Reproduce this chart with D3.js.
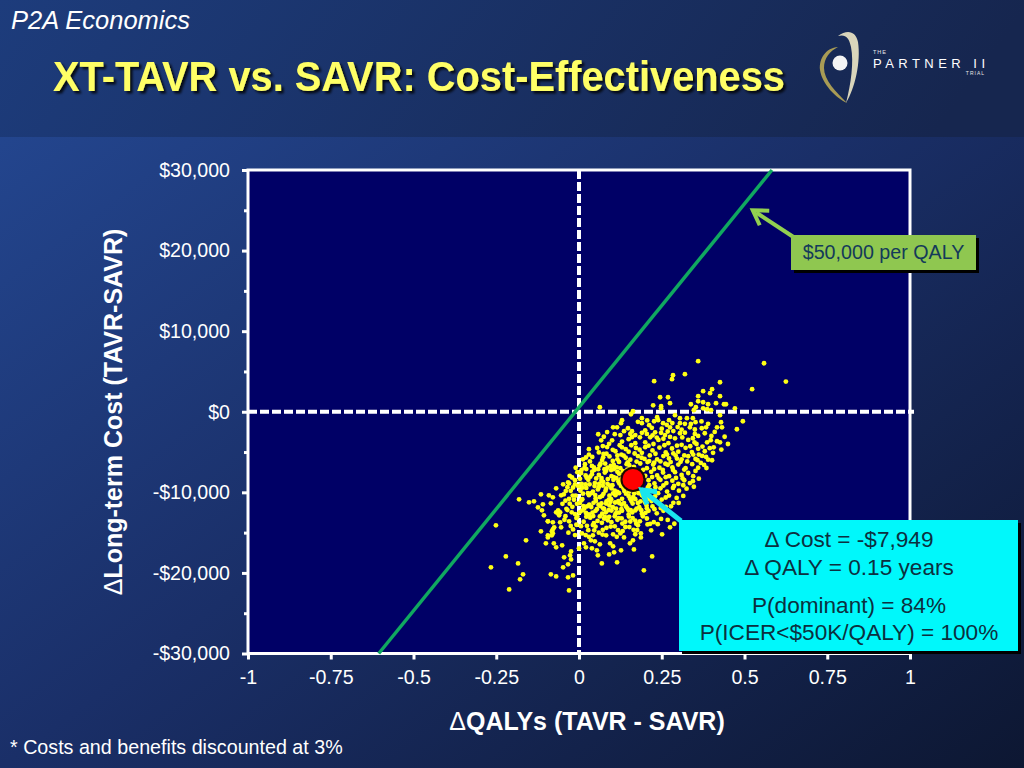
<!DOCTYPE html>
<html><head><meta charset="utf-8">
<style>
html,body{margin:0;padding:0;background:#14224c;overflow:hidden}
svg{display:block}
text{font-family:"Liberation Sans",Arial,sans-serif}
</style>
<script src="https://cdn.jsdelivr.net/npm/d3@7"></script>
</head><body>
<svg id="c" width="1024" height="768"></svg>
<script>
const xTicks=[-1,-0.75,-0.5,-0.25,0,0.25,0.5,0.75,1];
const yTicks=[-30000,-20000,-10000,0,10000,20000,30000];
const yMinorTicks=[-25000,-15000,-5000,5000,15000,25000];
const thresholdLine=[[-0.605,-30000],[0.583,30000]];
const meanPoint=[0.163,-8400];
const statsLines=["\u0394 Cost = -$7,949","\u0394 QALY = 0.15 years","P(dominant) = 84%","P(ICER<$50K/QALY) = 100%"];
const outlierPoints=[[.36,6270],[.559,6020],[.625,3750],[.523,2800],[.227,3790],[.284,4530],[.281,4040],[.32,4660],[.426,3660],[.375,2550],[.402,2800],[.396,2300],[.36,1930],[.426,1930],[.245,1800],[.269,1800],[.36,1300],[.375,1180],[.275,1060],[.224,800],[.248,680],[.248,430],[.338,930],[.39,930],[.414,1060],[.438,930],[.444,930],[.063,560],[.471,430],[.353,560],[.347,190],[.375,430],[.387,310],[.399,190],[.163,60],[.157,-310],[.426,-430],[.495,-1180],[.477,-2170],[.417,-1930],[.432,-1930],[.429,-1300],[.384,-1930],
[-.251,-14100],[-.16,-15960],[-.221,-17950],[-.184,-18820],[-.266,-19310],[-.169,-20180],[-.178,-20800],[-.211,-22050],[-.085,-20180],[-.069,-20430],[-.033,-20550],[-.018,-20310],[-.03,-22170],[-.048,-19310],[-.033,-18940],[-.045,-18070],[-.024,-18320],[-.027,-17820],[.069,-18820],[.115,-18690],[.196,-19680],[.221,-17950],[.166,-17080],[.127,-17200],[.106,-17450],[.091,-17700],[.057,-17820],[.054,-17200],[.039,-16950],[.021,-16830],[.015,-16330],[0,-16950],[-.024,-17330],[-.051,-16580],[-.069,-16830],[-.076,-16330],[-.1,-16330],[-.094,-15590],[-.082,-15340],[-.115,-14840],[-.094,-13600],[-.079,-14590],[.275,-14340],[.251,-15210],[.218,-14720],[.187,-15090],[.187,-15590],[.154,-16330],[.163,-15960],[.136,-15590],[.082,-15340],[.103,-15210],[.042,-15340],[.036,-15960],[.048,-16080],[.063,-16450],[.094,-16330],[.103,-16700],
[-.181,-10870],[-.151,-11240],[-.136,-11120],[-.115,-10250],[-.091,-10370],[-.079,-10620],[-.054,-10370],[-.069,-9500],[-.048,-9000],[-.033,-8760],[-.124,-11860],[-.109,-11490],[-.085,-11360],[-.112,-12230],[-.106,-12850],[-.063,-12230],[-.063,-12600],[-.06,-12850],[-.057,-12480],[-.069,-12480],[-.094,-13600],[-.079,-13720],[-.057,-13720],[-.075,-14340],[-.054,-14340],[-.082,-14840],[-.094,-15340],[-.079,-15090]];
const upperCloud=[[.13,-1050],[.127,-1420],[.103,-1930],[.115,-1930],[.085,-2520],[.058,-2790],[.075,-3100],[.067,-3540],[.1,-3540],[.148,-2050],[.16,-2420],[.19,-800],[.19,-1420],[.212,-1670],[.236,-670],[.239,-1050],[.254,-1420],[.272,-1050],[.29,-430],[.305,-800],[.326,-800],[.344,-800],[.275,-1930],[.305,-1420],[.335,-1930],[.371,-2050],[.38,-2670],[.305,-2670],[.23,-2550],[.184,-3170],[.215,-3170],[.417,-3660],[.426,-3790],[.387,-3790],[.344,-3290],[.17,-2900],[.2,-2300],[.25,-2100],[.26,-2900],[.285,-2400],[.32,-2600],[.35,-2200],[.36,-3000],[.33,-3500],[.29,-3300],[.24,-3500],[.2,-3800],[.15,-3400],[.125,-2900],[.13,-3700],[.17,-3900],[.225,-4000],[.27,-3900],[.31,-4100],[.355,-4000],[.4,-3000],[.41,-2500],[.39,-1500],[.37,-1200],[.32,-1500],[.22,-2000],[.44,-3100],[.45,-4000],[.43,-4700],[.405,-5100],[.178,-1250],[.268,-2450],[.298,-1900],[.35,-2750],[.255,-3350],[.205,-2750],[.155,-2750]];
const midCloud=[[.03,-4650],[.06,-5050],[.085,-4380],[.11,-4900],[.13,-4420],[.15,-4950],[.172,-4500],[.19,-5100],[.2,-4400],[.222,-4800],[.243,-4450],[.262,-5050],[.281,-4560],[.3,-4950],[.322,-4480],[.341,-5000],[.36,-4600],[.38,-4900],[.395,-4520],
[.012,-5900],[.04,-5600],[.07,-6000],[.092,-5550],[.116,-5900],[.135,-5450],[.155,-5950],[.178,-5500],[.198,-5850],[.214,-5420],[.236,-5920],[.255,-5500],[.272,-5800],[.292,-5430],[.31,-5900],[.33,-5520],[.352,-5850],[.372,-5480],[.39,-5950],[.368,-6350],
[-.01,-6950],[.018,-6500],[.045,-6900],[.065,-6450],[.086,-6950],[.105,-6600],[.125,-7000],[.144,-6500],[.166,-6850],[.185,-6420],[.205,-7000],[.224,-6550],[.243,-6950],[.261,-6450],[.282,-6900],[.3,-6550],[.322,-7000],[.342,-6500],[.36,-6950],[.378,-6600],
[-.028,-7950],[-.005,-7500],[.02,-7900],[.04,-7420],[.06,-7850],[.078,-7550],[.098,-8000],[.116,-7450],[.134,-7900],[.152,-7500],[.2,-7950],[.218,-7450],[.236,-7900],[.254,-7550],[.272,-8000],[.29,-7500],[.31,-7850],[.33,-7600],[.345,-8000],
[-.03,-8900],[-.012,-8500],[.008,-8950],[.028,-8450],[.048,-8850],[.068,-8550],[.086,-8950],[.104,-8450],[.122,-8900],[.21,-8500],[.228,-8900],[.246,-8450],[.264,-8850],[.282,-8550],[.3,-8950],[.318,-8500],[.335,-8850],
[-.04,-9850],[-.018,-9400],[.004,-9800],[.022,-9450],[.042,-9900],[.06,-9350],[.08,-9800],[.098,-9500],[.116,-9950],[.134,-9450],[.152,-9900],[.172,-9700],[.19,-9950],[.208,-9400],[.226,-9850],[.246,-9500],[.266,-9900],[.284,-9450],[.302,-9800],[.325,-9550],
[-.03,-10800],[-.01,-10400],[.01,-10850],[.03,-10350],[.05,-10750],[.07,-10450],[.09,-10900],[.11,-10350],[.13,-10800],[.15,-10450],[.17,-10850],[.19,-10350],[.21,-10800],[.23,-10500],[.25,-10900],[.272,-10400],[.295,-10700],[.315,-10450],[.285,-11300],
[-.02,-11800],[.002,-11350],[.024,-11750],[.044,-11300],[.064,-11700],[.082,-11400],[.102,-11850],[.122,-11350],[.142,-11750],[.162,-11400],[.182,-11850],[.2,-11300],[.222,-11750],[.242,-11350],[.262,-11800]];
const lowerCloud=[[-.035,-12200],[-.012,-12700],[.01,-12250],[.03,-12750],[.05,-12300],[.07,-12650],[.09,-12200],[.11,-12700],[.13,-12300],[.15,-12750],[.17,-12250],[.19,-12650],[.21,-12300],[.235,-12600],[.255,-12300],
[-.03,-13600],[-.008,-13200],[.014,-13650],[.034,-13150],[.056,-13550],[.076,-13250],[.098,-13700],[.12,-13200],[.14,-13650],[.162,-13200],[.184,-13600],[.205,-13250],[.226,-13700],[.248,-13300],[.288,-13900],
[-.018,-14600],[.006,-14200],[.028,-14700],[.05,-14250],[.072,-14650],[.096,-14250],[.118,-14700],[.14,-14300],[.165,-14650],[.02,-15300],[.06,-15000],[.125,-15100]];
const denseCore=[[.047,-7210],[.083,-5210],[.121,-6230],[.141,-5710],[.097,-7240],[.068,-8230],[.113,-8240],[.139,-8520],[.093,-9170],[.057,-9640],[.127,-9210],[.074,-10180],[.038,-10090],[.103,-10120],[.142,-10170],[.167,-10120],[.199,-10240],[.051,-11060],[.083,-11130],[.119,-11090],[.158,-11060],[.186,-11110],[.219,-11080],[.031,-11520],[.073,-11990],[.112,-12020],[.146,-11990],[.174,-12030],[.205,-11990],[.041,-12510],[.081,-12480],[.121,-12510],[.161,-12490],[.201,-12540],[.022,-13020],[.063,-12990],[.108,-12980],[.151,-13010],[.193,-12970],[.045,-13810],[.087,-13470],[.131,-13880],[.173,-13890],[.215,-13910],[.007,-11010],[.016,-12020],[.002,-12480],[-.005,-13010],[.012,-10170],[-.012,-9020],[.003,-8320],[.034,-8060],[.058,-7120],[.079,-6430],[.102,-6110],[.128,-5320],[.147,-6270],[.168,-5180],[.189,-5710],[.207,-6240],[.231,-5210],[.246,-6170],[.268,-6580],[.285,-5170],[.307,-6210],[.327,-6170],[.345,-5310],[.362,-5310],[.384,-5610],[.402,-6020],[.385,-6980],[.352,-7340],[.318,-7180],[.284,-7220],[.253,-7210],[.227,-7110],[.194,-7210],[.169,-7310],[.146,-7190],[.121,-7680],[.105,-7120],[.082,-7320],[.062,-6680],[.033,-6170],[.022,-7110],[.008,-7210],[.052,-8270],[.087,-8350],[.105,-8110],[.128,-8310],[.221,-8110],[.241,-8260],[.262,-8120],[.293,-8210],[.313,-8280],[.344,-8610],[.362,-8310],[.347,-9310],[.315,-9120],[.287,-9210],[.255,-9150],[.231,-9370],[.212,-9110],[.186,-9210],[.171,-9300],[.151,-9170],[.137,-9820],[.121,-10110],[.108,-9800],[.092,-10410],[.063,-10600],[.027,-10110],[.011,-9400],[-.019,-10400],[-.041,-11030],[-.028,-11410],[-.015,-10920],[-.006,-11430],[.013,-11700],[.037,-11820],[.054,-12100],[.098,-12260],[.128,-12080],[.156,-12210],[.188,-12220],[.228,-12090],[.247,-11950],[.278,-11740],[.301,-11320],[.262,-10640],[.239,-10110],[.214,-9700],[.196,-10620],[.178,-11310],[.154,-10800],[.136,-11330],[.095,-11180],[.068,-11380],[.043,-12950],[.078,-13050],[.116,-13410],[.155,-13620],[.178,-14100],[.207,-13980],[.238,-13950],[.268,-13420],[.024,-14160],[.046,-14720],[.083,-14410],[.108,-14220],[.132,-14810],[.152,-14310],[.176,-14680],[-.025,-14180],[-.041,-12970],[-.022,-12480],[-.008,-14020],[-.046,-10260],[-.035,-9360],[-.021,-8160],[.006,-7620],[.017,-6920],[.039,-6720],[.073,-5660],[.102,-4720],[.123,-4160],[.141,-4630],[.158,-4160],[.183,-4710],[.21,-4210],[.235,-3210],[.258,-4160],[.296,-4210],[.336,-4280],[.312,-3180],[.275,-3120],[.248,-2620],[.222,-2920],[.19,-2610],[.16,-3160],[.136,-2410],[.108,-2780],[.091,-3980],[.072,-4260],[.116,-5420],[.055,-4500],[.074,-5230],[.03,-5320],[.021,-5680],[.096,-6720],[.152,-6640],[.174,-6180],[.212,-6120],[.227,-6320],[.266,-5310],[.277,-6240],[.296,-5810],[.318,-5420],[.358,-6010],[.407,-4420],[.373,-4320],[.349,-3810],[.398,-3530],[.31,-2210],[.265,-1620],[.227,-1180],[.206,-1080],[.338,-1510],[.352,-1290],[.282,-1410],[.072,-9160],[.047,-9220],[.032,-9010],[.097,-10860],[.129,-11520],[.149,-12180],[.204,-11620],[.164,-10580],[.18,-10100],[.204,-10460],[.113,-12520],[.091,-13040],[.069,-13790],[.042,-14060],[.129,-13240],[.17,-13500],[.059,-11540],[.021,-12550],[.076,-12060],[.092,-11620],[.109,-11260],[.049,-10340],[.02,-9020],[.039,-7760],[.077,-7120],[.114,-6900],[.133,-7370],[.073,-8710],[.119,-8650],[.101,-9120],[.082,-9520],[.061,-8950],[.023,-8200],[-.002,-9240],[-.025,-9810],[-.038,-12050],[-.05,-11420],[-.044,-13400],[-.032,-15000],[-.012,-15300],[.009,-15100],[.03,-15520],[.071,-15240],[.114,-15520],[.17,-15200]];
const allPoints=[...outlierPoints,...upperCloud,...midCloud,...lowerCloud,...denseCore];

const svg=d3.select("#c");
const defs=svg.append("defs");
const g1=defs.append("linearGradient").attr("id","bandBg").attr("x1",0).attr("y1",0).attr("x2",1).attr("y2",0.1);
g1.append("stop").attr("offset",0).attr("stop-color","#1d3c7c");
g1.append("stop").attr("offset",1).attr("stop-color","#16264f");
const g2=defs.append("linearGradient").attr("id","mainBg").attr("x1",0).attr("y1",0).attr("x2",1).attr("y2",1);
g2.append("stop").attr("offset",0).attr("stop-color","#254a96");
g2.append("stop").attr("offset",0.5).attr("stop-color","#1a2f68");
g2.append("stop").attr("offset",1).attr("stop-color","#0d1732");
const f=defs.append("filter").attr("id","ts").attr("x","-5%").attr("y","-20%").attr("width","110%").attr("height","150%");
f.append("feDropShadow").attr("dx",2.5).attr("dy",2.5).attr("stdDeviation",0.8).attr("flood-color","#000").attr("flood-opacity",0.8);

svg.append("rect").attr("width",1024).attr("height",768).attr("fill","url(#mainBg)");
svg.append("rect").attr("width",1024).attr("height",137).attr("fill","url(#bandBg)");

svg.append("text").attr("x",11).attr("y",29).attr("fill","#fff").attr("font-size",25).attr("font-style","italic").attr("textLength",179).attr("lengthAdjust","spacingAndGlyphs").text("P2A Economics");
svg.append("text").attr("x",53).attr("y",91).attr("fill","#ffff66").attr("font-size",42).attr("font-weight","bold").attr("textLength",732).attr("lengthAdjust","spacingAndGlyphs").attr("filter","url(#ts)").text("XT-TAVR vs. SAVR: Cost-Effectiveness");

// logo
const logo=svg.append("g");
logo.append("path").attr("d","M838,36 C847,29 856,31 858,42 C861,62 855,88 846,103 C851,84 854,62 851,47 C849,37 845,34 838,36Z").attr("fill","#d9d5bb");
logo.append("path").attr("d","M838,47 C826,48 819,58 820,70 C822,84 836,98 847,103 C836,92 824,80 824,68 C824,58 830,51 838,47Z").attr("fill","#a89b55");
logo.append("circle").attr("cx",840).attr("cy",63).attr("r",7.5).attr("fill","#f4f4f4");
logo.append("text").attr("x",873).attr("y",53.5).attr("fill","#e8e8e8").attr("font-size",5.5).attr("letter-spacing",1).text("THE");
logo.append("text").attr("x",873).attr("y",68).attr("fill","#fff").attr("font-size",13).attr("textLength",112).text("PARTNER II");
logo.append("text").attr("x",985).attr("y",75).attr("text-anchor","end").attr("fill","#e8e8e8").attr("font-size",5).attr("letter-spacing",1).text("TRIAL");

const x=d3.scaleLinear().domain([-1,1]).range([248,910]);
const y=d3.scaleLinear().domain([-30000,30000]).range([653.5,170]);

svg.append("rect").attr("x",x(-1)).attr("y",y(30000)).attr("width",x(1)-x(-1)).attr("height",y(-30000)-y(30000)).attr("fill","#000066");

const fmt=v=>v<0?"-$"+d3.format(",")(-v):"$"+d3.format(",")(v);
const yAxis=d3.axisLeft(y).tickValues(yTicks).tickFormat(fmt).tickSize(6).tickPadding(12);
const yMinor=d3.axisLeft(y).tickValues(yMinorTicks).tickFormat("").tickSize(4);
const xAxis=d3.axisBottom(x).tickValues(xTicks).tickFormat(d=>String(d)).tickSize(6).tickPadding(11);
function style(g){g.select(".domain").remove();g.selectAll("line").attr("stroke","#fff").attr("stroke-width",3);
 g.selectAll("text").attr("fill","#fff").attr("font-size",19.6).attr("font-family",'"Liberation Sans",Arial,sans-serif');}
svg.append("g").attr("transform",`translate(${x(-1)},0)`).call(yAxis).call(style);
svg.append("g").attr("transform",`translate(${x(-1)},0)`).call(yMinor).call(style);
svg.append("g").attr("transform",`translate(0,${y(-30000)})`).call(xAxis).call(style);

// zero lines
svg.append("line").attr("x1",x(-1)).attr("x2",x(1)+4).attr("y1",y(0)).attr("y2",y(0)).attr("stroke","#fff").attr("stroke-width",4).attr("stroke-dasharray","9 3");
svg.append("line").attr("x1",x(0)).attr("x2",x(0)).attr("y1",y(30000)).attr("y2",y(-30000)).attr("stroke","#fff").attr("stroke-width",4).attr("stroke-dasharray","9 3");

// frame
svg.append("rect").attr("x",x(-1)).attr("y",y(30000)).attr("width",x(1)-x(-1)).attr("height",y(-30000)-y(30000)).attr("fill","none").attr("stroke","#fff").attr("stroke-width",3);

// threshold
svg.append("path").datum(thresholdLine).attr("d",d3.line().x(d=>x(d[0])).y(d=>y(d[1]))).attr("stroke","#10a860").attr("stroke-width",3.5).attr("fill","none");

// points
svg.append("g").selectAll("circle").data(allPoints).join("circle").attr("cx",d=>x(d[0])).attr("cy",d=>y(d[1])).attr("r",2.4).attr("fill","#ffff14");
svg.append("circle").attr("cx",x(meanPoint[0])).attr("cy",y(meanPoint[1])).attr("r",11.5).attr("fill","#ff0000").attr("stroke","#1a0a00").attr("stroke-width",2);

function arrow(x0,y0,x1,y1,col,w,h){
 const a=Math.atan2(y1-y0,x1-x0),c=Math.cos(a),s=Math.sin(a);
 svg.append("line").attr("x1",x0).attr("y1",y0).attr("x2",x1-c*4).attr("y2",y1-s*4).attr("stroke",col).attr("stroke-width",w);
 const L=h,W=h*0.62;
 svg.append("path").attr("d",`M${x1-c*L-s*W},${y1-s*L+c*W}L${x1},${y1}L${x1-c*L+s*W},${y1-s*L-c*W}`).attr("fill","none").attr("stroke",col).attr("stroke-width",w).attr("stroke-linejoin","miter");
}
// green callout
arrow(795,238,x(0.525),y(25000),"#92d050",4,14);
svg.append("rect").attr("x",794).attr("y",238).attr("width",185).attr("height",35).attr("fill","#000");
svg.append("rect").attr("x",791).attr("y",235).attr("width",185).attr("height",35).attr("fill","#8fc750");
svg.append("text").attr("x",883.5).attr("y",259).attr("text-anchor","middle").attr("font-size",19.7).attr("fill","#143a5a").text("$50,000 per QALY");

// cyan callout
arrow(681,521,x(0.19),y(-9700),"#19e6ee",5,13);
svg.append("rect").attr("x",682).attr("y",523).attr("width",339).attr("height",131).attr("fill","#000");
svg.append("rect").attr("x",679).attr("y",520).attr("width",339).attr("height",131).attr("fill","#00f8fb");
const baselines=[547,575,613,640];
svg.append("g").selectAll("text").data(statsLines).join("text").attr("x",849).attr("y",(d,i)=>baselines[i]).attr("text-anchor","middle").attr("font-size",22.6).attr("fill","#0c3040").text(d=>d);

// axis titles
const xt=svg.append("text").attr("x",587).attr("y",730).attr("text-anchor","middle").attr("font-size",25).attr("font-weight","bold").attr("fill","#fff");
xt.append("tspan").attr("font-weight","normal").text("\u0394");
xt.append("tspan").text("QALYs (TAVR - SAVR)");
const yt=svg.append("text").attr("transform","translate(122,412) rotate(-90)").attr("text-anchor","middle").attr("font-size",25).attr("font-weight","bold").attr("fill","#fff");
yt.append("tspan").attr("font-weight","normal").text("\u0394");
yt.append("tspan").text("Long-term Cost (TAVR-SAVR)");
svg.append("text").attr("x",10).attr("y",754).attr("font-size",19.7).attr("fill","#fff").text("* Costs and benefits discounted at 3%");
</script>
</body></html>
